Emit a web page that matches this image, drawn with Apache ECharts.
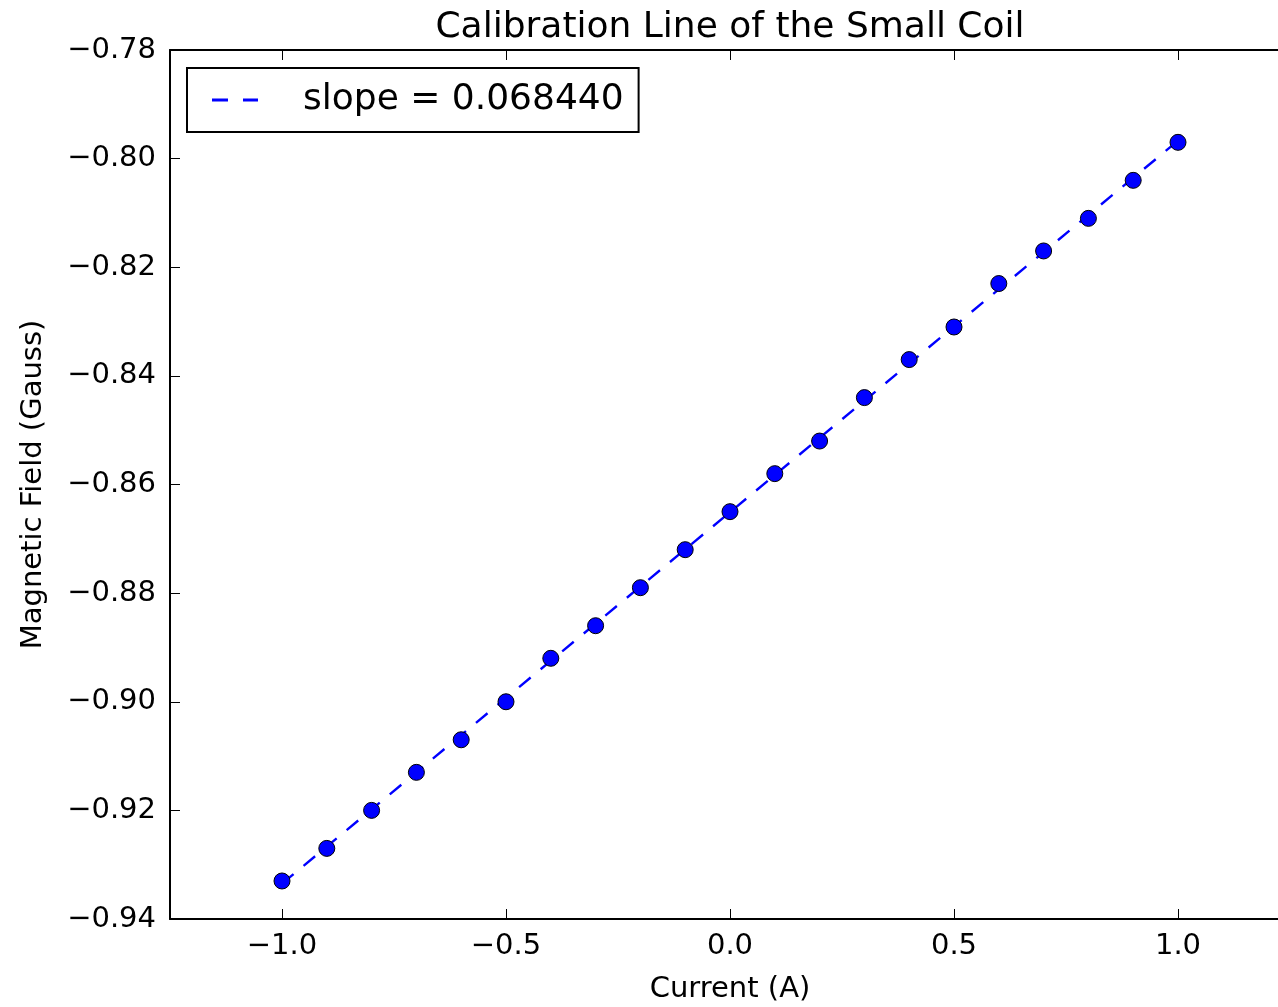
<!DOCTYPE html>
<html>
<head>
<meta charset="utf-8">
<script src="https://cdn.jsdelivr.net/npm/echarts@6/dist/echarts.min.js"></script>
<style>
html,body{margin:0;padding:0;background:#fff;overflow:hidden;width:1278px;height:1007px;}
#chart{width:1294px;height:1007px;}
</style>
</head>
<body>
<div id="chart"></div>
<script>
const currents = [-1.0,-0.9,-0.8,-0.7,-0.6,-0.5,-0.4,-0.3,-0.2,-0.1,0.0,0.1,0.2,0.3,0.4,0.5,0.6,0.7,0.8,0.9,1.0];
const fields = [-0.933,-0.927,-0.920,-0.913,-0.907,-0.900,-0.892,-0.886,-0.879,-0.872,-0.865,-0.858,-0.852,-0.844,-0.837,-0.831,-0.823,-0.817,-0.811,-0.804,-0.797];
const fitX = [-1.0, 1.0];
const fitY = [-0.9335, -0.7967];
const fitLabel = 'slope = 0.068440';
const xTicks = [-1.0,-0.5,0.0,0.5,1.0];
const yTicks = [-0.94,-0.92,-0.90,-0.88,-0.86,-0.84,-0.82,-0.80,-0.78];
const titleText = 'Calibration Line of the Small Coil';
const xName = 'Current (A)';
const yName = 'Magnetic Field (Gauss)';

const FONT = 'DejaVu Sans';
const minus = s => s.replace('-', '\u2212');

const chart = echarts.init(document.getElementById('chart'), null, {renderer:'canvas', width:1294, height:1007});
const axisCommon = {
  axisLine:{show:true, onZero:false, lineStyle:{color:'#000', width:2}},
  axisTick:{show:true, inside:true, length:10, lineStyle:{color:'#000', width:1}},
  splitLine:{show:false},
};
chart.setOption({
  animation:false,
  backgroundColor:'#fff',
  title:{text:titleText, left:725, textAlign:'center', top:5,
    textStyle:{fontFamily:FONT, fontSize:36, fontWeight:'normal', color:'#000'}},
  legend:{
    data:[{name:fitLabel, icon:'path://M0,0 h16 v3 h-16 z M31,0 h15 v3 h-15 z'}],
    left:187, top:68, orient:'vertical',
    borderColor:'#000', borderWidth:2, padding:[14,15,14,25],
    itemWidth:46, itemHeight:3, symbolKeepAspect:false,
    itemStyle:{color:'#0000ff', borderWidth:0},
    textStyle:{fontFamily:FONT, fontSize:36, color:'#000', padding:[0,0,0,40]}
  },
  grid:{left:170, top:50, width:1120, height:869, containLabel:false, outerBoundsMode:'none'},
  xAxis:[
    Object.assign({}, axisCommon, {type:'value', position:'bottom', min:-1.25, max:1.25,
      name:xName, nameLocation:'middle', nameGap:56,
      nameTextStyle:{fontFamily:FONT, fontSize:29, color:'#000'},
      axisTick:Object.assign({}, axisCommon.axisTick, {customValues:xTicks}),
      axisLabel:{customValues:xTicks, margin:13, fontFamily:FONT, fontSize:29, color:'#000',
        formatter:v=>minus(v.toFixed(1))}}),
    Object.assign({}, axisCommon, {type:'value', position:'top', min:-1.25, max:1.25,
      axisTick:Object.assign({}, axisCommon.axisTick, {customValues:xTicks}),
      axisLabel:{show:false}})
  ],
  yAxis:[
    Object.assign({}, axisCommon, {type:'value', position:'left', min:-0.94, max:-0.78,
      name:yName, nameLocation:'middle', nameGap:122, nameRotate:90,
      nameTextStyle:{fontFamily:FONT, fontSize:29, color:'#000'},
      axisTick:Object.assign({}, axisCommon.axisTick, {customValues:yTicks}),
      axisLabel:{customValues:yTicks, margin:14, fontFamily:FONT, fontSize:29, color:'#000',
        formatter:v=>minus(v.toFixed(2))}}),
    Object.assign({}, axisCommon, {type:'value', position:'right', min:-0.94, max:-0.78,
      axisTick:Object.assign({}, axisCommon.axisTick, {customValues:yTicks}),
      axisLabel:{show:false}})
  ],
  series:[
    {name:fitLabel, type:'line', data:fitX.map((x,i)=>[x,fitY[i]]),
      symbol:'none', z:2,
      lineStyle:{color:'#0000ff', width:2.4, type:[15,13]},
      itemStyle:{color:'#0000ff'}},
    {name:'data', type:'scatter', data:currents.map((x,i)=>[x,fields[i]]),
      symbol:'circle', symbolSize:16, z:3,
      itemStyle:{color:'#0000ff', borderColor:'#000', borderWidth:1, opacity:1}}
  ]
});
</script>
</body>
</html>
